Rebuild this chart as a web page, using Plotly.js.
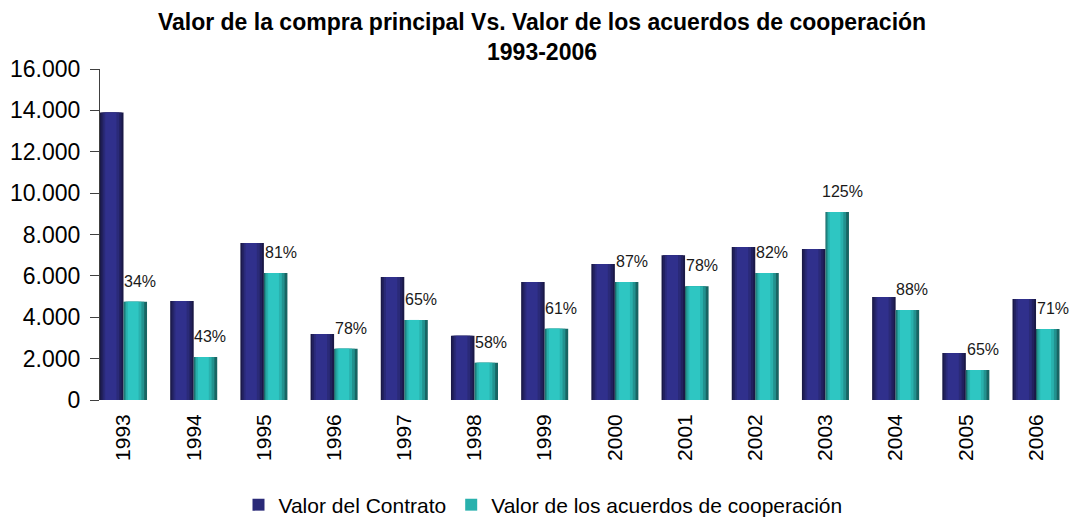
<!DOCTYPE html>
<html>
<head>
<meta charset="utf-8">
<script src="https://cdn.plot.ly/plotly-3.0.1.min.js"></script>
<style>html,body{margin:0;padding:0;background:#fff;}#chart{width:1071px;height:519px;}</style>
</head>
<body>
<div id="chart"></div>
<script>
// ---- data ----
const years = ["1993","1994","1995","1996","1997","1998","1999","2000","2001","2002","2003","2004","2005","2006"];
const valorContrato = [13900, 4780, 7590, 3190, 5940, 3100, 5700, 6570, 7000, 7400, 7300, 4980, 2270, 4880];
const valorAcuerdos = [4750, 2080, 6140, 2480, 3870, 1800, 3450, 5700, 5500, 6140, 9090, 4350, 1450, 3430];
const pctLabels = ["34%","43%","81%","78%","65%","58%","61%","87%","78%","82%","125%","88%","65%","71%"];
const seriesNames = ["Valor del Contrato", "Valor de los acuerdos de cooperación"];

// ---- styling ----
const BW = 0.335; // bar width in category units
// gradient layers: [left fraction, right fraction, colour]
const darkLayers = [
  [0.00, 1.00, "#1a1947"],
  [0.06, 0.92, "#22215f"],
  [0.14, 0.82, "#2a2a78"],
  [0.22, 0.70, "#30308c"]
];
const tealLayers = [
  [0.00, 1.00, "#186563"],
  [0.04, 0.88, "#22928f"],
  [0.10, 0.76, "#29b1ad"],
  [0.18, 0.64, "#2ec6c2"]
];

const traces = [];
function addSeries(values, name, layers, baseOffset, legendIdx) {
  layers.forEach((L, k) => {
    traces.push({
      type: "bar",
      x: years,
      y: values,
      name: name,
      legendgroup: name,
      showlegend: k === legendIdx,
      offset: baseOffset + L[0] * BW,
      width: (L[1] - L[0]) * BW,
      marker: { color: L[2], line: { width: 0 } },
      hoverinfo: "x+y"
    });
  });
}
addSeries(valorContrato, seriesNames[0], darkLayers, -BW, 2);
addSeries(valorAcuerdos, seriesNames[1], tealLayers, 0, 2);

const annotations = years.map((yr, i) => ({
  x: i,               // category index
  y: valorAcuerdos[i],
  xref: "x",
  yref: "y",
  text: pctLabels[i],
  showarrow: false,
  xanchor: "center",
  yanchor: "bottom",
  xshift: BW * 70.2 / 2 + 5,
  yshift: 10,
  font: { family: "Liberation Sans, Arial, sans-serif", size: 16, color: "#1a1a1a" }
}));

const layout = {
  width: 1071,
  height: 519,
  margin: { l: 100, r: 9, t: 69, b: 119 },
  paper_bgcolor: "#ffffff",
  plot_bgcolor: "#ffffff",
  separators: ",.",
  barmode: "overlay",
  font: { family: "Liberation Sans, Arial, sans-serif", color: "#000" },
  title: {
    text: "<b>Valor de la compra principal Vs. Valor de los acuerdos de cooperación<br>1993-2006</b>",
    font: { family: "Liberation Sans, Arial, sans-serif", size: 23, color: "#000" },
    x: 0.4595,
    xref: "paper",
    xanchor: "center",
    yref: "container",
    y: 0.942,
    yanchor: "top"
  },
  xaxis: {
    type: "category",
    range: [-0.335, 13.37],
    showline: false,
    showgrid: false,
    zeroline: false,
    ticks: "",
    tickangle: -90,
    tickfont: { size: 21, color: "#000" },
    ticklabelstandoff: 9,
    automargin: false,
    fixedrange: true
  },
  yaxis: {
    range: [0, 16000],
    tickvals: [0, 2000, 4000, 6000, 8000, 10000, 12000, 14000, 16000],
    tickformat: ",d",
    showline: true,
    linecolor: "#404040",
    linewidth: 1,
    ticks: "outside",
    ticklen: 9,
    tickcolor: "#404040",
    showgrid: false,
    zeroline: false,
    tickfont: { size: 23, color: "#000" },
    ticklabelstandoff: 5,
    automargin: false,
    fixedrange: true
  },
  legend: {
    orientation: "h",
    xref: "container",
    yref: "container",
    x: 0.507,
    xanchor: "center",
    y: 0.027,
    yanchor: "middle",
    font: { size: 21, color: "#000" },
    itemwidth: 30,
    tracegroupgap: 0
  },
  annotations: annotations,
  showlegend: true
};

Plotly.newPlot("chart", traces, layout, { displayModeBar: false, staticPlot: true });
</script>
</body>
</html>
